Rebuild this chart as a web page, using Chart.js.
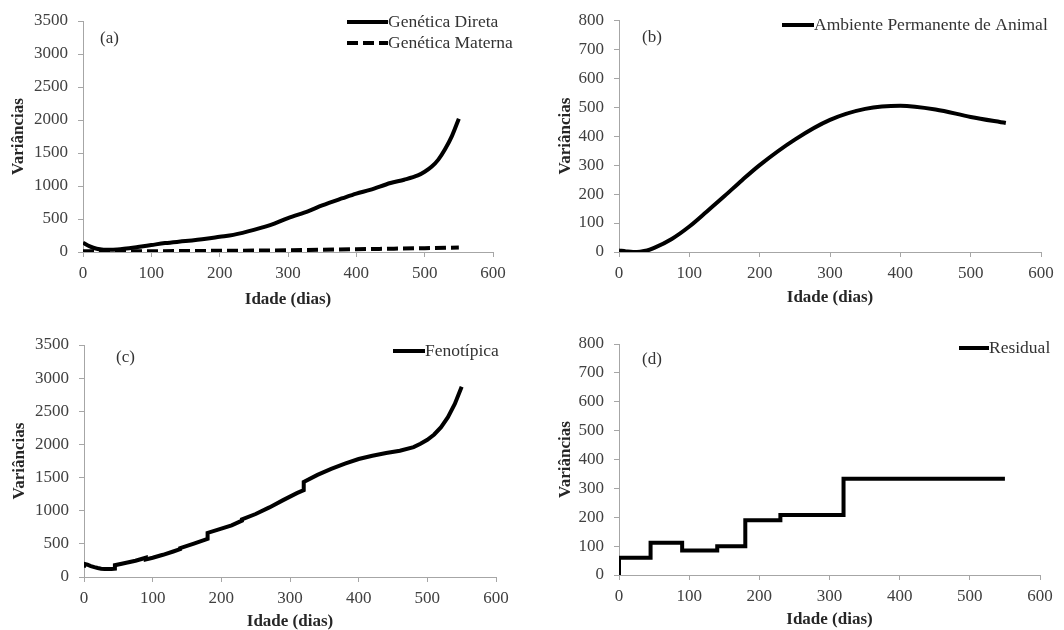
<!DOCTYPE html>
<html>
<head>
<meta charset="utf-8">
<script src="https://cdn.jsdelivr.net/npm/chart.js@4.4.1/dist/chart.umd.min.js"></script>
<style>
html, body { margin:0; padding:0; background:#fff; width:1064px; height:630px; overflow:hidden; }
.painel { position:absolute; }
</style>
</head>
<body>
<div class="painel" style="left:0;top:0"><canvas id="grafA" width="532" height="315"></canvas></div>
<div class="painel" style="left:532px;top:0"><canvas id="grafB" width="532" height="315"></canvas></div>
<div class="painel" style="left:0;top:315px"><canvas id="grafC" width="532" height="320"></canvas></div>
<div class="painel" style="left:532px;top:315px"><canvas id="grafD" width="532" height="320"></canvas></div>
<script>
// --- DADOS ---
// (a) genética direta e materna
const idadeDireta = [0, 10, 20, 30, 40, 50, 60, 80, 100, 120, 150, 180, 200, 220, 250, 280, 300, 330, 350, 380, 400, 420, 450, 470, 490, 500, 510, 520, 530, 540, 550];
const varDireta   = [140, 85, 50, 35, 33, 38, 48, 75, 105, 135, 165, 200, 230, 260, 335, 430, 515, 620, 705, 815, 885, 940, 1045, 1095, 1160, 1215, 1290, 1400, 1560, 1760, 2020];
const idadeMaterna = [0, 100, 200, 300, 400, 500, 550];
const varMaterna   = [10, 12, 18, 26, 42, 58, 68];

// (b) ambiente permanente de animal
const idadePerm = [0, 10, 20, 30, 40, 50, 75, 100, 125, 150, 175, 200, 250, 300, 350, 400, 450, 500, 550];
const varPerm   = [5, 2, 0, 1, 5, 14, 45, 88, 140, 193, 248, 300, 388, 456, 494, 505, 492, 466, 445];

// (c) fenotípica (idades repetidas = saltos)
const idadeFeno = [0, 0, 5, 10, 15, 20, 25, 30, 35, 40, 45, 45, 60, 75, 90, 90, 100, 115, 130, 140, 140, 160, 180, 180, 200, 215, 230, 230, 250, 270, 290, 310, 320, 320, 340, 360, 380, 400, 420, 440, 460, 480, 490, 500, 510, 520, 530, 540, 550];
const varFeno   = [140, 200, 185, 165, 148, 135, 125, 120, 120, 122, 125, 178, 210, 245, 290, 265, 290, 335, 385, 420, 435, 505, 575, 665, 730, 780, 850, 868, 950, 1050, 1160, 1265, 1310, 1435, 1540, 1630, 1710, 1780, 1830, 1870, 1905, 1960, 2010, 2070, 2150, 2260, 2410, 2610, 2870];

// (d) residual (degraus)
const idadeResid = [0, 0, 45, 90, 140, 180, 230, 320, 550];
const varResid   = [0, 60, 112, 85, 100, 190, 208, 333, 333];

const FONTE = "'Liberation Serif', 'Times New Roman', serif";

const pares = (xs, ys) => xs.map((x, i) => ({ x: x, y: ys[i] }));

// legenda no canto + rótulo do painel
const legendaCanto = {
    id: 'legendaCanto',
    afterDraw(chart, args, opts) {
        const ctx = chart.ctx;
        ctx.save();
        ctx.font = '17.5px ' + FONTE;
        ctx.fillStyle = '#333';
        ctx.textBaseline = 'middle';
        ctx.textAlign = 'left';
        chart.data.datasets.forEach((ds, i) => {
            const y = opts.y + i * 21;
            ctx.strokeStyle = ds.borderColor;
            ctx.lineWidth = ds.borderWidth;
            ctx.setLineDash(ds.borderDash || []);
            ctx.beginPath();
            ctx.moveTo(opts.x, y);
            ctx.lineTo(opts.x + opts.comp, y);
            ctx.stroke();
            ctx.fillText(ds.label, opts.x + opts.comp, y);
        });
        ctx.setLineDash([]);
        ctx.font = '17px ' + FONTE;
        ctx.fillText(opts.painel, opts.px, opts.py);
        ctx.restore();
    }
};

function eixos(maxY, passoY, largY, altX) {
    const corEixo = '#a6a6a6';
    const semMilhar = v => String(v);
    return {
        x: {
            type: 'linear', min: 0, max: 600,
            ticks: { stepSize: 100, color: '#404040', font: { family: FONTE, size: 17 }, padding: 6, callback: semMilhar },
            grid: { drawOnChartArea: false, tickLength: 5, color: corEixo },
            border: { color: corEixo },
            title: { display: true, text: 'Idade (dias)', color: '#262626', padding: 0, font: { family: FONTE, size: 17, weight: 'bold' } },
            afterFit: s => { s.height = altX; }
        },
        y: {
            min: 0, max: maxY,
            ticks: { stepSize: passoY, color: '#404040', font: { family: FONTE, size: 17 }, padding: 10, callback: semMilhar },
            grid: { drawOnChartArea: false, tickLength: 5, color: corEixo },
            border: { color: corEixo },
            title: { display: true, text: 'Variâncias', color: '#262626', padding: 0, font: { family: FONTE, size: 17, weight: 'bold' } },
            afterFit: s => { s.width = largY; }
        }
    };
}

function linha(rotulo, dados, extra) {
    return Object.assign({
        label: rotulo, data: dados,
        borderColor: '#000', backgroundColor: '#000', borderWidth: 4,
        pointRadius: 0, fill: false
    }, extra || {});
}

function criarPainel(id, datasets, cfg) {
    new Chart(document.getElementById(id), {
        type: 'line',
        data: { datasets: datasets },
        options: {
            responsive: false,
            animation: false,
            layout: { padding: cfg.padding },
            scales: eixos(cfg.maxY, cfg.passoY, cfg.largY, cfg.altX),
            plugins: {
                legend: { display: false },
                tooltip: { enabled: false },
                legendaCanto: cfg.legenda
            }
        },
        plugins: [legendaCanto]
    });
}

criarPainel('grafA', [
    linha('Genética Direta', pares(idadeDireta, varDireta), { cubicInterpolationMode: 'monotone' }),
    linha('Genética Materna', pares(idadeMaterna, varMaterna), { borderDash: [11, 5], cubicInterpolationMode: 'monotone' })
], {
    padding: { left: 8, top: 21, right: 39, bottom: 5 }, largY: 75, altX: 58,
    maxY: 3500, passoY: 500,
    legenda: { x: 347, y: 22, comp: 41, painel: '(a)', px: 100, py: 39 }
});

criarPainel('grafB', [
    linha('Ambiente Permanente de Animal', pares(idadePerm, varPerm), { cubicInterpolationMode: 'monotone' })
], {
    padding: { left: 23, top: 20, right: 23, bottom: 7 }, largY: 64, altX: 56,
    maxY: 800, passoY: 100,
    legenda: { x: 250, y: 25, comp: 32, painel: '(b)', px: 110, py: 38 }
});

criarPainel('grafC', [
    linha('Fenotípica', pares(idadeFeno, varFeno), { tension: 0 })
], {
    padding: { left: 9, top: 30, right: 36, bottom: 3 }, largY: 75, altX: 55,
    maxY: 3500, passoY: 500,
    legenda: { x: 393, y: 36, comp: 32, painel: '(c)', px: 116, py: 43 }
});

criarPainel('grafD', [
    linha('Residual', pares(idadeResid, varResid), { stepped: true, tension: 0 })
], {
    padding: { left: 23, top: 29, right: 24, bottom: 5 }, largY: 64, altX: 55,
    maxY: 800, passoY: 100,
    legenda: { x: 427, y: 33, comp: 30, painel: '(d)', px: 110, py: 45 }
});
</script>
</body>
</html>
